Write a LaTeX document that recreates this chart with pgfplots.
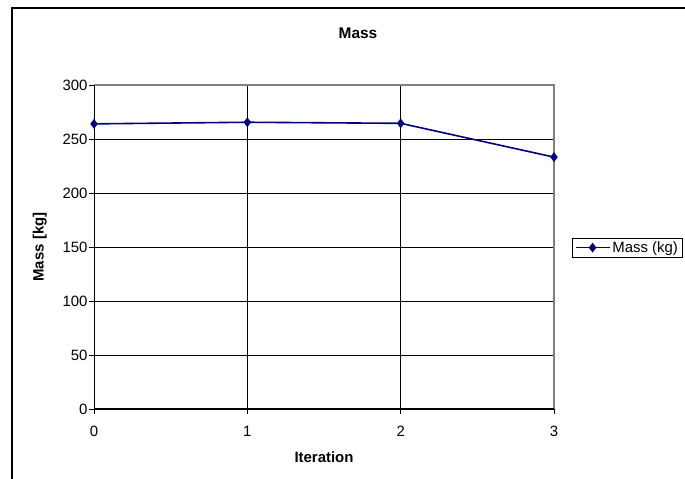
\documentclass[border=0pt]{standalone}
\usepackage{pgfplots}
\pgfplotsset{compat=1.18}
\usepackage{fontspec}
\setmainfont{Liberation Sans}
\definecolor{navyline}{RGB}{0,0,128}
\definecolor{frame}{RGB}{128,128,128}
\begin{document}
\begin{tikzpicture}[x=1bp,y=1bp]
\useasboundingbox (0,0) rectangle (685,479);
% chart area frame (runs off the right and bottom edges)
\draw[black, line width=1.5bp] (12,-10) -- (12,471) -- (700,471);
\node[font=\fontsize{15.5}{18}\selectfont\bfseries] at (358,446) {Mass};
\begin{axis}[
  at={(94bp,70bp)}, anchor=south west,
  scale only axis, width=460bp, height=324bp,
  xmin=0, xmax=3, ymin=0, ymax=300,
  xtick={0,1,2,3}, ytick={0,50,...,300},
  axis line style={draw=none},
  grid=major, major grid style={black, line width=0.7bp},
  tick pos=left, tick align=outside, major tick length=5bp,
  tick style={black, line width=0.7bp},
  /pgf/number format/assume math mode=true,
  ticklabel style={font=\fontsize{15}{18}\selectfont},
  xticklabel style={yshift=-9bp},
  yticklabel style={xshift=2bp},
  xlabel={Iteration}, ylabel={Mass [kg]},
  label style={font=\fontsize{15}{18}\selectfont\bfseries},
  xlabel style={yshift=-8bp},
  ylabel style={yshift=9bp},
  legend style={at={(1.039,0.498)}, anchor=west, draw=black, line width=0.7bp,
    font=\fontsize{15}{18}\selectfont, inner xsep=2.5bp, inner ysep=1.2bp, row sep=0pt},
  legend image code/.code={
    \draw[#1, mark repeat=2, mark phase=2] plot coordinates {(0bp,0bp) (17bp,0bp) (34bp,0bp)};},
  legend cell align=left,
  clip=false,
]
\addplot[navyline, line width=1.6bp, mark=diamond*, mark size=4.5bp,
  mark options={fill=navyline, solid, line width=0.5bp}] coordinates {
  (0,264.0) (1,265.5) (2,264.5) (3,233.2)
};
\addlegendentry{Mass (kg)}
\draw[frame, line width=1.2bp] (axis cs:0,300) -- (axis cs:3,300) -- (axis cs:3,0);
\draw[black, line width=1bp] (axis cs:0,300) -- (axis cs:0,0) -- (axis cs:3,0);
\end{axis}
\end{tikzpicture}
\end{document}
